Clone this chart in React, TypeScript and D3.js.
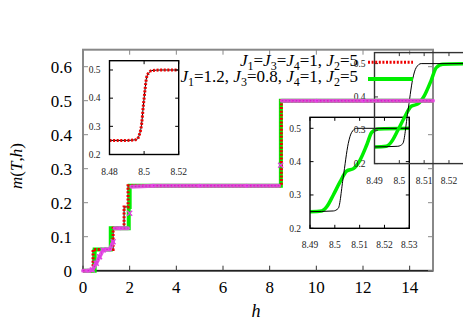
import React from "react";
import * as d3 from "d3";

// ---------- data ----------
// main plot: step curves
const redH = [0, 0.43, 0.43, 1.29, 1.29, 1.76, 1.76, 1.93, 1.93, 8.5, 8.5, 15];
const redM = [0, 0, 0.0625, 0.0625, 0.125, 0.125, 0.1875, 0.1875, 0.25, 0.25, 0.5, 0.5];
const greenH = [0, 0.5, 0.5, 1.19, 1.19, 1.96, 1.96, 2.0, 2.0, 8.48, 8.48, 15];
const greenM = [0, 0, 0.0625, 0.0625, 0.125, 0.125, 0.1875, 0.1875, 0.25, 0.25, 0.5, 0.5];
const magH = [0, 0.2, 0.4, 0.57, 0.71, 0.86, 1.0, 1.15, 1.29, 1.36, 1.6, 1.93, 2.0, 2.07, 3, 5, 7, 8.4, 8.47, 8.52, 10, 12, 15];
const magM = [0, 0, 0.002, 0.022, 0.041, 0.061, 0.0625, 0.0625, 0.085, 0.125, 0.125, 0.125, 0.169, 0.247, 0.25, 0.25, 0.25, 0.25, 0.31, 0.5, 0.5, 0.5, 0.5];
const magMarkH = [0.4, 0.57, 0.71, 0.86, 1.29, 2.0, 8.47];
const magMarkM = [0.002, 0.022, 0.041, 0.061, 0.085, 0.169, 0.31];

// inset 1 (upper left)
const in1H = [8.48, 8.49, 8.4957, 8.4972, 8.4986, 8.4995, 8.5005, 8.5015, 8.503, 8.5044, 8.51, 8.52];
const in1M = [0.25, 0.25, 0.253, 0.269, 0.31, 0.369, 0.428, 0.475, 0.492, 0.498, 0.5, 0.5];

// insets 2 and 3 (same content)
const inBlackH = [8.49, 8.4994, 8.5014, 8.5034, 8.5054, 8.5068, 8.5088, 8.53];
const inBlackM = [0.25, 0.252, 0.26, 0.354, 0.454, 0.488, 0.5, 0.5];
const inGreenH = [8.49, 8.4947, 8.4967, 8.4994, 8.5021, 8.5048, 8.5075, 8.5101, 8.5128, 8.5149, 8.5175, 8.53];
const inGreenM = [0.25, 0.252, 0.264, 0.3, 0.339, 0.372, 0.379, 0.404, 0.449, 0.488, 0.498, 0.5];

const mainXTicks = [0, 2, 4, 6, 8, 10, 12, 14];
const mainYTicks = [0, 0.1, 0.2, 0.3, 0.4, 0.5, 0.6];
const in1XTicks = [8.48, 8.5, 8.52];
const in2XTicks = [8.49, 8.5, 8.51, 8.52, 8.53];
const inYTicks = [0.2, 0.3, 0.4, 0.5];

// legend labels as segments: [text, kind]  kind: n normal, i italic, s subscript
const legend1: [string, string][] = [["J", "i"], ["1", "s"], ["=", "n"], ["J", "i"], ["3", "s"], ["=", "n"], ["J", "i"], ["4", "s"], ["=1, ", "n"], ["J", "i"], ["2", "s"], ["=5", "n"]];
const legend2: [string, string][] = [["J", "i"], ["1", "s"], ["=1.2, ", "n"], ["J", "i"], ["3", "s"], ["=0.8, ", "n"], ["J", "i"], ["4", "s"], ["=1, ", "n"], ["J", "i"], ["2", "s"], ["=5", "n"]];

const FONT = "'Liberation Serif', 'Times New Roman', serif";

function zip(a: number[], b: number[]): [number, number][] {
  return a.map((v, i) => [v, b[i]]);
}

function fmt(v: number) {
  return d3.format("~g")(+v.toFixed(3));
}

function Segs({ segs }: { segs: [string, string][] }) {
  let prevSub = false;
  return (
    <>
      {segs.map(([t, k], i) => {
        let dy = 0;
        if (k === "s" && !prevSub) dy = 4;
        if (k !== "s" && prevSub) dy = -4;
        prevSub = k === "s";
        return (
          <tspan key={i} dy={dy} fontSize={k === "s" ? 12 : 17} fontStyle={k === "i" ? "italic" : "normal"}>
            {t.replace(/ /g, "\u00a0")}
          </tspan>
        );
      })}
    </>
  );
}

type InsetProps = {
  x0: number; x1: number; y0: number; y1: number;
  xDom: [number, number]; yDom: [number, number];
  xTicks: number[]; yTicks: number[];
  id: string;
  children: (x: d3.ScaleLinear<number, number>, y: d3.ScaleLinear<number, number>) => React.ReactNode;
  stroke?: string;
};

function Inset({ x0, x1, y0, y1, xDom, yDom, xTicks, yTicks, id, children, stroke = "#000" }: InsetProps) {
  const x = d3.scaleLinear(xDom, [x0, x1]);
  const y = d3.scaleLinear(yDom, [y0, y1]);
  const tl = 3.5;
  return (
    <g>
      <clipPath id={id}>
        <rect x={x0} y={y1} width={x1 - x0} height={y0 - y1} />
      </clipPath>
      <g clipPath={`url(#${id})`}>{children(x, y)}</g>
      {xTicks.map((t) => (
        <g key={"x" + t}>
          <line x1={x(t)} x2={x(t)} y1={y0} y2={y0 - tl} stroke={stroke} strokeWidth={1} />
          <line x1={x(t)} x2={x(t)} y1={y1} y2={y1 + tl} stroke={stroke} strokeWidth={1} />
          <text x={x(t)} y={y0 + 20} fontSize={9.5} textAnchor="middle" fontFamily={FONT} fill="#222">{fmt(t)}</text>
        </g>
      ))}
      {yTicks.map((t) => (
        <g key={"y" + t}>
          <line x1={x0} x2={x0 + tl} y1={y(t)} y2={y(t)} stroke={stroke} strokeWidth={1} />
          <line x1={x1} x2={x1 - tl} y1={y(t)} y2={y(t)} stroke={stroke} strokeWidth={1} />
          <text x={x0 - 9} y={y(t) + 3.2} fontSize={9.5} textAnchor="end" fontFamily={FONT} fill="#222">{fmt(t)}</text>
        </g>
      ))}
      <rect x={x0} y={y1} width={x1 - x0} height={y0 - y1} fill="none" stroke={stroke} strokeWidth={1.4} />
    </g>
  );
}

export default function App() {
  const W = 463, H = 324;
  const x = d3.scaleLinear([0, 15], [83, 433]);
  const y = d3.scaleLinear([0, 0.65], [270.7, 49.7]);
  const line = d3.line<[number, number]>().x((d) => x(d[0])).y((d) => y(d[1]));

  const insetCurves = (xs: d3.ScaleLinear<number, number>, ys: d3.ScaleLinear<number, number>) => {
    const l = d3.line<[number, number]>().x((d) => xs(d[0])).y((d) => ys(d[1])).curve(d3.curveMonotoneX);
    return (
      <>
        <path d={l(zip(inGreenH, inGreenM)) || ""} fill="none" stroke="#00ee00" strokeWidth={3.5} strokeLinejoin="round" />
        <path d={l(zip(inBlackH, inBlackM)) || ""} fill="none" stroke="#000" strokeWidth={1} />
      </>
    );
  };

  // magenta band: only draw segments that are not steep (steep parts show as sparse markers)
  const magPts = zip(magH, magM);
  const magSegs: [number, number][][] = [];
  for (let i = 0; i < magPts.length - 1; i++) {
    const a = magPts[i], b = magPts[i + 1];
    const dxp = Math.abs(x(b[0]) - x(a[0]));
    const dyp = Math.abs(y(b[1]) - y(a[1]));
    if (dyp <= 2.5 * dxp) magSegs.push([a, b]);
  }

  const in2 = { x0: 310, x1: 409.3, y0: 228.3, y1: 117.3 };
  const dx3 = 64.5, dy3 = -64.7;

  return (
    <svg width={W} height={H} style={{ position: "absolute", left: 0, top: 0, background: "#fff" }}>
      {/* main frame */}
      <rect x={83} y={49.7} width={350} height={221} fill="none" stroke="#888" strokeWidth={2} />
      <line x1={83} x2={433} y1={270.7} y2={270.7} stroke="#222" strokeWidth={1.5} />
      {mainXTicks.map((t) => (
        <g key={"mx" + t}>
          <line x1={x(t)} x2={x(t)} y1={270.7} y2={265.7} stroke="#333" strokeWidth={1} />
          <line x1={x(t)} x2={x(t)} y1={49.7} y2={54.7} stroke="#888" strokeWidth={1} />
          <text x={x(t)} y={292.5} fontSize={17} textAnchor="middle" fontFamily={FONT}>{fmt(t)}</text>
        </g>
      ))}
      {mainYTicks.map((t) => (
        <g key={"my" + t}>
          <line x1={83} x2={88} y1={y(t)} y2={y(t)} stroke="#888" strokeWidth={1} />
          <line x1={433} x2={428} y1={y(t)} y2={y(t)} stroke="#888" strokeWidth={1} />
          <text x={72} y={y(t) + 5.8} fontSize={17} textAnchor="end" fontFamily={FONT}>{fmt(t)}</text>
        </g>
      ))}
      <text x={256} y={317} fontSize={18} textAnchor="middle" fontFamily={FONT} fontStyle="italic">h</text>
      <text transform="translate(22,166) rotate(-90)" fontSize={17} textAnchor="middle" fontFamily={FONT}>
        <tspan fontStyle="italic">m</tspan>(<tspan fontStyle="italic">T</tspan>,<tspan fontStyle="italic">h</tspan>)
      </text>

      {/* inset 1 */}
      <Inset id="c1" x0={109.5} x1={178.7} y0={154.5} y1={60.7} xDom={[8.48, 8.52]} yDom={[0.2, 0.533]} xTicks={in1XTicks} yTicks={inYTicks}>
        {(xs, ys) => {
          const l = d3.line<[number, number]>().x((d) => xs(d[0])).y((d) => ys(d[1])).curve(d3.curveMonotoneX);
          const dd = l(zip(in1H, in1M)) || "";
          return (
            <>
              <path d={dd} fill="none" stroke="#000" strokeWidth={1} />
              <path d={dd} fill="none" stroke="#ee0000" strokeWidth={3} strokeDasharray="2 1.6" />
            </>
          );
        }}
      </Inset>

      {/* inset 2 */}
      <Inset id="c2" {...in2} xDom={[8.49, 8.53]} yDom={[0.2, 0.533]} xTicks={in2XTicks} yTicks={inYTicks}>
        {insetCurves}
      </Inset>

      {/* inset 3 (duplicate, shifted) */}
      <Inset id="c3" x0={in2.x0 + dx3} x1={in2.x1 + dx3} y0={in2.y0 + dy3} y1={in2.y1 + dy3} xDom={[8.49, 8.53]} yDom={[0.2, 0.533]} xTicks={in2XTicks} yTicks={inYTicks} stroke="#333">
        {insetCurves}
      </Inset>

      {/* main curves */}
      <g>
        <path d={line(zip(redH, redM)) || ""} fill="none" stroke="#000" strokeWidth={1} />
        <path d={line(zip(greenH, greenM)) || ""} fill="none" stroke="#00ee00" strokeWidth={4} />
        <path d={line(zip(redH, redM)) || ""} fill="none" stroke="#ee0000" strokeWidth={3} strokeDasharray="2 1.6" />
        {magSegs.map((s, i) => (
          <g key={"ms" + i}>
            <path d={line(s) || ""} fill="none" stroke="#e64de6" strokeWidth={4} strokeLinecap="round" opacity={0.9} />
            <path d={line(s) || ""} fill="none" stroke="#cc00cc" strokeWidth={1.2} strokeDasharray="1.5 2" opacity={0.6} />
          </g>
        ))}
        {magMarkH.map((h, i) => {
          const cx = x(h), cy = y(magMarkM[i]);
          return (
            <path key={"mm" + i} d={`M${cx - 2.5},${cy - 2.5}L${cx + 2.5},${cy + 2.5}M${cx - 2.5},${cy + 2.5}L${cx + 2.5},${cy - 2.5}`} stroke="#e040e0" strokeWidth={1.4} />
          );
        })}
      </g>

      {/* legend */}
      <text x={358} y={66} textAnchor="end" fontFamily={FONT}>
        <Segs segs={legend1} />
      </text>
      <line x1={368} x2={413} y1={62.3} y2={62.3} stroke="#ee0000" strokeWidth={3} strokeDasharray="2 1.6" />
      <text x={358} y={82} textAnchor="end" fontFamily={FONT}>
        <Segs segs={legend2} />
      </text>
      <line x1={368} x2={413} y1={79} y2={79} stroke="#00ee00" strokeWidth={4} />
    </svg>
  );
}
